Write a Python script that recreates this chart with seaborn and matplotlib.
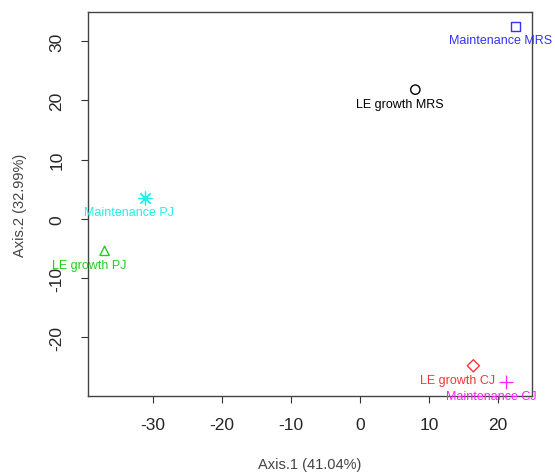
import matplotlib
matplotlib.use('Agg')
import matplotlib.pyplot as plt
import seaborn as sns
import pandas as pd

# PCoA coordinates
labels = ['LE growth MRS', 'LE growth PJ', 'LE growth CJ',
          'Maintenance MRS', 'Maintenance PJ', 'Maintenance CJ']
axis1 = [8.0, -37.0, 16.4, 22.5, -31.2, 21.2]
axis2 = [21.8, -5.4, -24.8, 32.5, 3.5, -27.5]
colors = ['#000000', '#22cc22', '#ff3333', '#3333ff', '#22eeee', '#ff22ff']
markers = ['o', '^', 'D', 's', (8, 2, 0), '+']
open_marker = [True, True, True, True, False, False]

df = pd.DataFrame({'label': labels, 'x': axis1, 'y': axis2})

sns.set_style('white')
plt.rcParams['font.family'] = ['Liberation Sans', 'DejaVu Sans']
plt.rcParams['axes.unicode_minus'] = False

fig = plt.figure(figsize=(5.55, 4.77), dpi=100)
ax = fig.add_axes([0.1586, 0.1677, 0.8, 0.805])

for i, row in df.iterrows():
    if open_marker[i]:
        sns.scatterplot(data=df.iloc[[i]], x='x', y='y', ax=ax, marker=markers[i],
                        s=45 if markers[i] != 'D' else 38,
                        facecolors='none', edgecolor=colors[i], linewidth=1, legend=False)
    else:
        sns.scatterplot(data=df.iloc[[i]], x='x', y='y', ax=ax, marker=markers[i],
                        s=90, color=colors[i], linewidth=0.9, legend=False)
    ax.annotate(row['label'], (row['x'], row['y']), xytext=(-11, -10),
                textcoords='offset points', ha='center', va='center',
                fontsize=9, color=colors[i], annotation_clip=False)

ax.set_xlim(-39.4, 24.9)
ax.set_ylim(-29.9, 34.9)
ax.set_xticks([-30, -20, -10, 0, 10, 20])
ax.set_yticks([-20, -10, 0, 10, 20, 30])
ax.tick_params(axis='both', labelsize=12.5, length=5, width=0.8, color='#333333',
               bottom=True, left=True)
ax.tick_params(axis='x', pad=10)
ax.tick_params(axis='y', pad=12)
for lab in ax.get_yticklabels():
    lab.set_rotation(90)
    lab.set_va('center')
for sp in ax.spines.values():
    sp.set_color('#444444')
    sp.set_linewidth(1)

ax.set_xlabel('Axis.1 (41.04%)', fontsize=10.5, color='#444444', labelpad=18)
ax.set_ylabel('Axis.2 (32.99%)', fontsize=10.5, color='#444444', labelpad=16)

fig.savefig('out.png', dpi=100)
